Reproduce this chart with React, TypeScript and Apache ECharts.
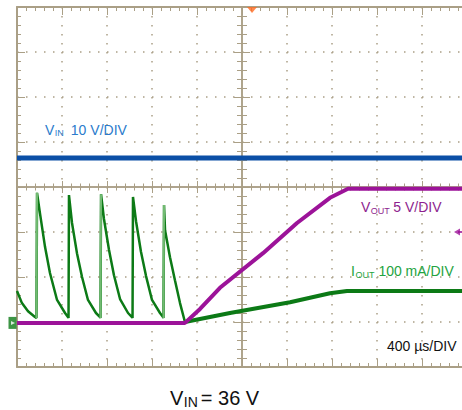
import React, { useEffect, useRef } from "react";
import * as echarts from "echarts";

// ---- scope screen (10 x 8 divisions, 400 µs/div) ----
const TIME_MIN = 0;
const TIME_MAX = 4000;
const TIME_DIV = 400;
const DIV_MIN = -4;
const DIV_MAX = 4;

// traces: [time µs from left edge, screen divisions from centre]
const vinTrace = [
  [0, 0.644],
  [4000, 0.644],
];

const voutTrace = [
  [0, -3.02], [1493, -3.02], [1627, -2.71], [1804, -2.24], [2187, -1.47],
  [2489, -0.8], [2782, -0.24], [2942, -0.04], [4000, -0.04],
];

const ioutSpikes = [
  [0, -2.31], [44, -2.58], [98, -2.76], [160, -2.89], [173, -2.91],
  [178, -0.13], [204, -0.58], [249, -1.33], [293, -1.91], [356, -2.51], [427, -2.8], [453, -2.89], [458, -2.91],
  [462, -0.18], [489, -0.8], [533, -1.47], [578, -2.0], [631, -2.51], [702, -2.8], [738, -2.89], [742, -2.91],
  [747, -0.16], [773, -0.71], [818, -1.4], [862, -1.96], [916, -2.49], [987, -2.8], [1022, -2.89], [1027, -2.91],
  [1031, -0.22], [1058, -0.76], [1102, -1.44], [1147, -1.98], [1200, -2.51], [1271, -2.8], [1298, -2.89], [1302, -2.91],
  [1307, -0.4], [1316, -0.96], [1360, -1.56], [1404, -2.07], [1449, -2.58], [1493, -3.0],
];

// fast rising edges that the scope draws in a lighter tone
const ioutLightEdges: any[] = [
  [173, -2.91], [178, -0.13], "-",
  [742, -2.91], [747, -0.16], "-",
  [1302, -2.91], [1307, -0.4],
];

const ioutRamp = [
  [1493, -3.0], [1893, -2.8], [2427, -2.56], [2782, -2.36], [2933, -2.31], [4000, -2.31],
];

const triggerTime = 2089;
const voutRefMarker = [3911, -1];
const groundMarker = [0, -3.02];

const TAN = "#aa9f86";
const BLUE = "#0b4fa6";
const BLUE_LABEL = "#2b7bcc";
const PURPLE = "#9c1399";
const PURPLE_LABEL = "#8e1f8e";
const GREEN = "#0c7a16";
const GREEN_LIGHT = "#72bb72";
const GREEN_LABEL = "#23a340";
const ORANGE = "#ff6a21";
const FONT = "'Liberation Sans', Arial, Helvetica, sans-serif";

const GRID_BOX = { left: 17, top: 7, width: 450, height: 360, outerBoundsMode: "none" };

function base(min: number, max: number, interval: number, gridIndex: number) {
  return {
    type: "value",
    min,
    max,
    interval,
    gridIndex,
    axisLabel: { show: false },
    splitLine: { show: false },
    minorSplitLine: { show: false },
  };
}

function lineStyle(width: number) {
  return { color: TAN, width };
}

function richText(
  x: number,
  y: number,
  main1: string,
  sub: string,
  main2: string,
  color: string,
  fs: number,
  sfs: number,
  gap: number
) {
  return {
    type: "text",
    x,
    y,
    silent: true,
    z: 100,
    style: {
      text: `{m|${main1}}{s|${sub}}{m|${main2}}`,
      fill: color,
      align: "left",
      verticalAlign: "middle",
      rich: {
        m: { fontSize: fs, fontFamily: FONT, fill: color, lineHeight: fs + 2 },
        s: {
          fontSize: sfs,
          fontFamily: FONT,
          fill: color,
          lineHeight: sfs,
          verticalAlign: "bottom",
          padding: [0, gap, 0, 0.5],
        },
      },
    },
  };
}

export default function App() {
  const ref = useRef<HTMLDivElement>(null);

  useEffect(() => {
    if (!ref.current) return;
    const chart = echarts.init(ref.current, null, { renderer: "svg" });

    const half = (TIME_MAX - TIME_MIN) / 2;

    const option: any = {
      animation: false,
      backgroundColor: "#ffffff",
      grid: [GRID_BOX, GRID_BOX, GRID_BOX, GRID_BOX, GRID_BOX],
      xAxis: [
        {
          ...base(TIME_MIN, TIME_MAX, TIME_DIV, 0),
          position: "bottom",
          axisLine: { show: true, onZero: false, lineStyle: lineStyle(2) },
          axisTick: { show: true, inside: true, length: 8, lineStyle: lineStyle(1) },
          minorTick: { show: true, splitNumber: 5, length: 4, lineStyle: lineStyle(1) },
          splitLine: { show: true, lineStyle: { color: TAN, width: 1.5, type: [1.5, 7.5] } },
        },
        {
          ...base(-half, half, TIME_DIV, 1),
          position: "top",
          axisLine: { show: true, onZero: false, lineStyle: lineStyle(2) },
          axisTick: { show: true, inside: true, length: 8, lineStyle: lineStyle(1) },
          minorTick: { show: true, splitNumber: 5, length: 4, lineStyle: lineStyle(1) },
        },
        { ...base(-half, half, TIME_DIV, 2), show: false },
        {
          ...base(-half, half, TIME_DIV, 3),
          position: "bottom",
          axisLine: { show: true, onZero: true, lineStyle: lineStyle(1.5) },
          axisTick: { show: true, inside: true, length: 6, lineStyle: lineStyle(1) },
          minorTick: { show: true, splitNumber: 5, length: 3.5, lineStyle: lineStyle(1) },
        },
        {
          ...base(-half, half, TIME_DIV, 4),
          position: "bottom",
          axisLine: { show: true, onZero: true, lineStyle: lineStyle(1.5) },
          axisTick: { show: true, inside: false, length: 6, lineStyle: lineStyle(1) },
          minorTick: { show: true, splitNumber: 5, length: 3.5, lineStyle: lineStyle(1) },
        },
      ],
      yAxis: [
        {
          ...base(DIV_MIN, DIV_MAX, 1, 0),
          position: "left",
          axisLine: { show: true, onZero: false, lineStyle: lineStyle(2) },
          axisTick: { show: true, inside: true, length: 8, lineStyle: lineStyle(1) },
          minorTick: { show: true, splitNumber: 5, length: 4, lineStyle: lineStyle(1) },
          splitLine: { show: true, lineStyle: { color: TAN, width: 1.5, type: [1.5, 7.5] } },
        },
        {
          ...base(DIV_MIN, DIV_MAX, 1, 1),
          position: "left",
          axisLine: { show: true, onZero: true, lineStyle: lineStyle(1.5) },
          axisTick: { show: true, inside: true, length: 8, lineStyle: lineStyle(1) },
          minorTick: { show: true, splitNumber: 5, length: 5, lineStyle: lineStyle(1) },
        },
        {
          ...base(DIV_MIN, DIV_MAX, 1, 2),
          position: "left",
          axisLine: { show: true, onZero: true, lineStyle: lineStyle(1.5) },
          axisTick: { show: true, inside: false, length: 8, lineStyle: lineStyle(1) },
          minorTick: { show: true, splitNumber: 5, length: 5, lineStyle: lineStyle(1) },
        },
        { ...base(DIV_MIN, DIV_MAX, 1, 3), show: false },
        { ...base(DIV_MIN, DIV_MAX, 1, 4), show: false },
      ],
      series: [
        {
          type: "line",
          name: "VIN",
          data: vinTrace,
          symbol: "none",
          lineStyle: { color: BLUE, width: 5 },
          z: 3,
        },
        {
          type: "line",
          name: "IOUT",
          data: ioutSpikes,
          symbol: "none",
          lineStyle: { color: GREEN, width: 2.5 },
          z: 4,
        },
        {
          type: "line",
          name: "IOUT edges",
          data: ioutLightEdges,
          symbol: "none",
          connectNulls: false,
          lineStyle: { color: GREEN_LIGHT, width: 2 },
          z: 4,
        },
        {
          type: "line",
          name: "IOUT ramp",
          data: ioutRamp,
          symbol: "none",
          lineStyle: { color: GREEN, width: 4 },
          z: 4,
        },
        {
          type: "line",
          name: "VOUT",
          data: voutTrace,
          symbol: "none",
          lineStyle: { color: PURPLE, width: 4 },
          z: 5,
        },
        {
          type: "scatter",
          name: "trigger",
          data: [[triggerTime, DIV_MAX]],
          symbol: "triangle",
          symbolRotate: 180,
          symbolSize: [10, 6],
          symbolOffset: [0, 3],
          itemStyle: { color: ORANGE },
          clip: false,
          silent: true,
          z: 6,
        },
        {
          type: "scatter",
          name: "vout ref",
          data: [voutRefMarker],
          symbol: "triangle",
          symbolRotate: 90,
          symbolSize: [7, 6],
          itemStyle: { color: PURPLE },
          clip: false,
          silent: true,
          z: 6,
        },
        {
          type: "scatter",
          name: "vout ref stem",
          data: [voutRefMarker],
          symbol: "rect",
          symbolSize: [8, 2],
          symbolOffset: [5, 0],
          itemStyle: { color: PURPLE },
          clip: false,
          silent: true,
          z: 6,
        },
        {
          type: "scatter",
          name: "ground",
          data: [groundMarker],
          symbol: "rect",
          symbolSize: [8, 12],
          symbolOffset: [-4.5, 0],
          itemStyle: { color: GREEN },
          clip: false,
          silent: true,
          z: 7,
        },
        {
          type: "scatter",
          name: "ground arrow",
          data: [groundMarker],
          symbol: "triangle",
          symbolRotate: -90,
          symbolSize: [4, 4],
          symbolOffset: [-4, 0],
          itemStyle: { color: "#ffffff" },
          clip: false,
          silent: true,
          z: 8,
        },
      ],
      graphic: [
        richText(45, 129.5, "V", "IN", "10 V/DIV", BLUE_LABEL, 14, 9, 7),
        richText(361, 207, "V", "OUT", "5 V/DIV", PURPLE_LABEL, 14, 9, 3.5),
        richText(351, 271, "I", "OUT", "100 mA/DIV", GREEN_LABEL, 14, 9, 4),
        {
          type: "text",
          x: 387,
          y: 345.5,
          silent: true,
          z: 100,
          style: {
            text: "400 µs/DIV",
            fill: "#111111",
            fontSize: 14,
            fontFamily: FONT,
            align: "left",
            verticalAlign: "middle",
          },
        },
        richText(170, 397.5, "V", "IN", "= 36 V", "#111111", 20, 14, 3),
      ],
    };

    chart.setOption(option);
    return () => chart.dispose();
  }, []);

  return (
    <div
      ref={ref}
      style={{ position: "absolute", left: 0, top: 0, width: 462, height: 410 }}
    />
  );
}
